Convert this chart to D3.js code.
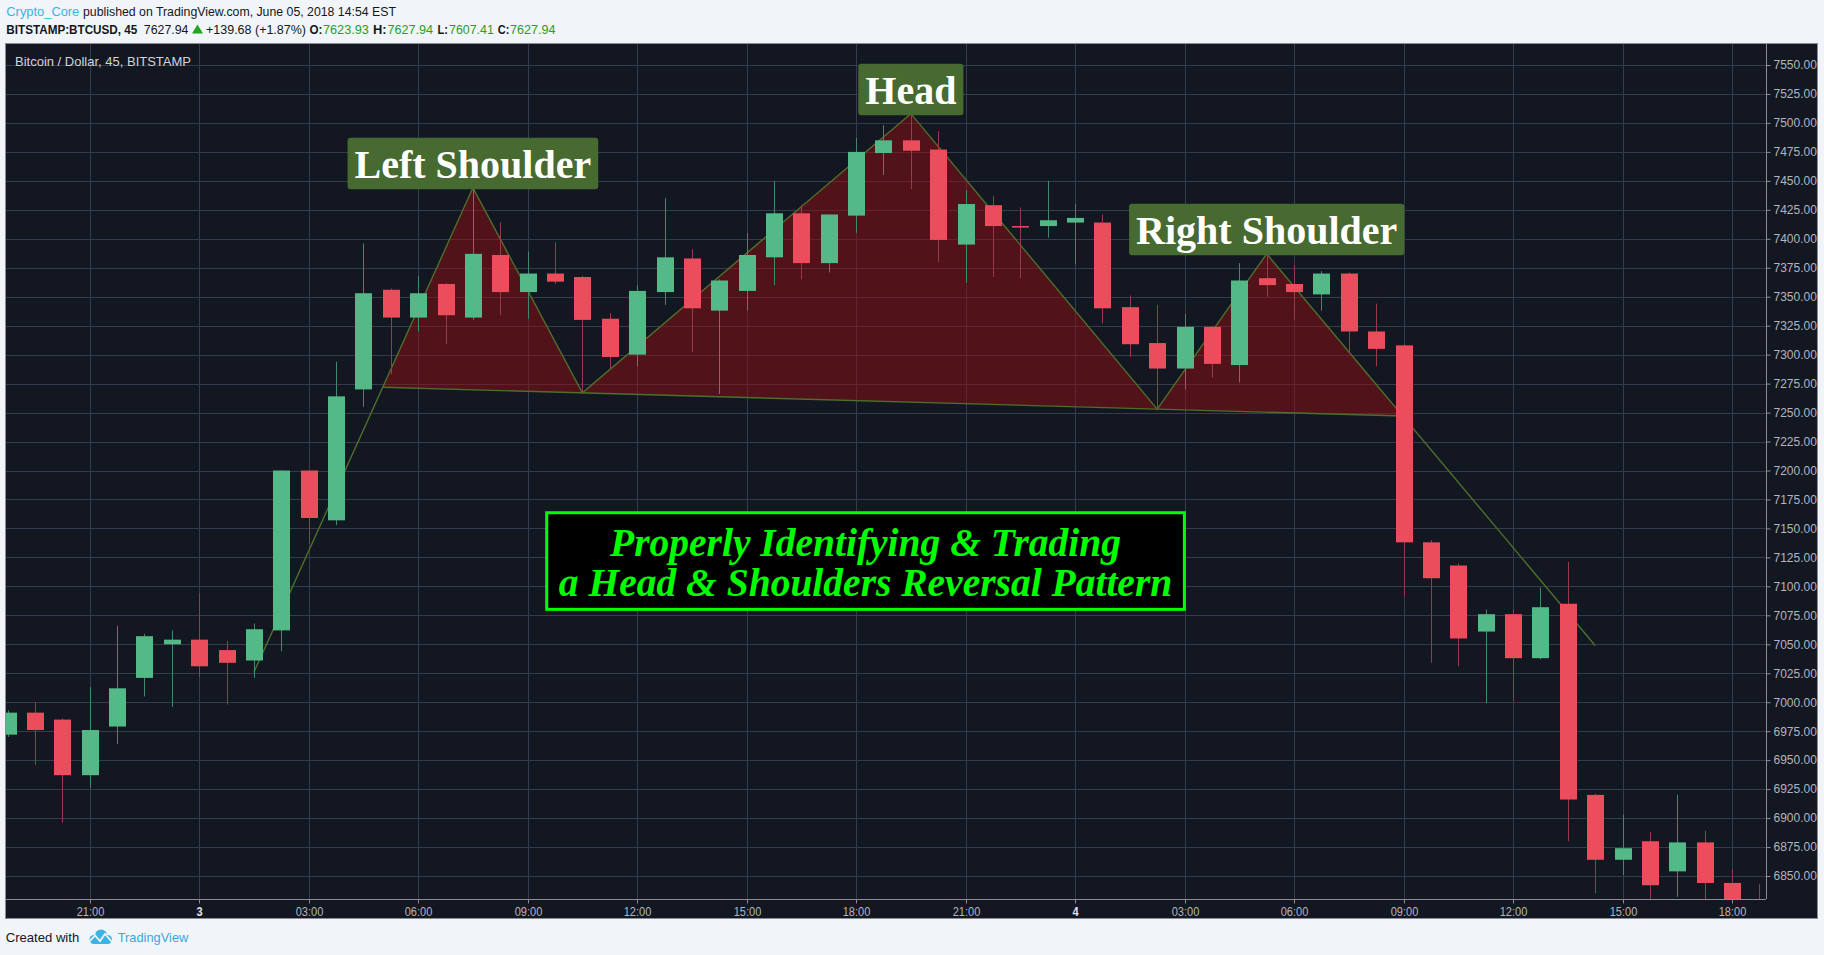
<!DOCTYPE html>
<html><head><meta charset="utf-8">
<script src="https://cdn.jsdelivr.net/npm/d3@7"></script>
<style>
html,body{margin:0;padding:0;background:#f1f4f8;}
svg{display:block;}
</style></head><body>
<svg id="c" width="1824" height="955"></svg>
<script>
// ---- data (45-minute BTC/USD candles, Jun 2 18:45 -> Jun 4 18:45) ----
const opens  = [6972,6991,6985,6937,6979,7021,7050,7054,7045,7036,7062,7200,7157,7270,7356,7332,7361,7332,7386,7354,7370,7367,7331,7300,7354,7383,7338,7355,7384,7422,7379,7420,7474,7485,7477,7395,7429,7411,7411,7414,7414,7341,7310,7288,7324,7291,7366,7361,7352,7370,7320,7308,7138,7118,7061,7076,7038,7085,6920,6864,6880,6854,6879,6844,6826];
const highs  = [6993,7000,6986,7013,7066,7059,7062,7094,7053,7068,7200,7200,7294,7396,7357,7368,7362,7444,7414,7389,7397,7368,7336,7360,7435,7391,7365,7405,7450,7429,7421,7487,7498,7507,7493,7442,7437,7427,7450,7430,7421,7351,7343,7335,7325,7379,7387,7377,7372,7371,7344,7309,7140,7120,7080,7080,7099,7121,6921,6903,6888,6920,6889,6856,6843];
const lows   = [6970,6946,6896,6926,6964,7005,6996,7022,6998,7021,7044,7137,7153,7255,7283,7320,7309,7330,7334,7331,7361,7267,7288,7290,7343,7302,7266,7338,7360,7365,7371,7405,7455,7443,7380,7362,7367,7366,7401,7378,7327,7298,7252,7270,7280,7276,7350,7330,7338,7301,7290,7092,7034,7031,6999,7001,7037,6880,6835,6851,6830,6832,6830,6822,6800];
const closes = [6991,6976,6937,6976,7012,7057,7054,7031,7034,7063,7200,7159,7264,7353,7332,7353,7334,7387,7354,7370,7363,7330,7298,7355,7384,7340,7364,7386,7422,7379,7421,7475,7485,7476,7399,7430,7411,7410,7416,7418,7340,7309,7288,7324,7292,7364,7360,7354,7370,7320,7305,7138,7107,7055,7076,7038,7082,6916,6864,6874,6842,6879,6844,6826,6815];

const xTickBars   = [3,7,11,15,19,23,27,31,35,39,43,47,51,55,59,63];
const xTickLabels = ["21:00","3","03:00","06:00","09:00","12:00","15:00","18:00","21:00","4","03:00","06:00","09:00","12:00","15:00","18:00"];
const dayLabels   = ["3","4"];
const yTicks      = d3.range(6850, 7551, 25);

// head & shoulders drawing points: start, L.shoulder, neck1, head, neck2, R.shoulder, end
const patternBars   = [9,17,21,33,42,46,58];
const patternPrices = [7026,7444,7267,7508,7253,7387,7049];
const labelTexts    = ["Left Shoulder","Head","Right Shoulder"];
const labelPointIdx = [1,3,5];

const noteLines  = ["Properly Identifying & Trading","a Head & Shoulders Reversal Pattern"];
const noteBars   = [19.66, 43.03];
const notePrices = [7164.4, 7079.3];

// ---- layout ----
const svg = d3.select("#c");
const L = 6, R = 1766, T = 44, B = 899, AX_R = 1817, AX_B = 918;
const x = d3.scaleLinear().domain([3,63]).range([89.7,1732]);
const y = d3.scaleLinear().domain([6850,7550]).range([876,65]);

const UP = "#53b987", DN = "#eb4d5c";
const UPW = "#3f8a6c", DNW = "#9a3a49";

// chart background
svg.append("rect").attr("x",5).attr("y",43).attr("width",AX_R-5).attr("height",AX_B-43)
  .attr("fill","#131722").attr("stroke","#8a8d96").attr("stroke-width",1).attr("shape-rendering","crispEdges");

svg.append("defs").append("clipPath").attr("id","plot")
  .append("rect").attr("x",L).attr("y",T).attr("width",R-L).attr("height",B-T);

const plot = svg.append("g").attr("clip-path","url(#plot)");

// grid
plot.append("g").selectAll("line").data(yTicks).join("line")
  .attr("x1",L).attr("x2",R).attr("y1",d=>Math.round(y(d))+0.5).attr("y2",d=>Math.round(y(d))+0.5)
  .attr("stroke","#363c4e").attr("stroke-width",1);
plot.append("g").selectAll("line").data(xTickBars).join("line")
  .attr("y1",T).attr("y2",B).attr("x1",d=>Math.round(x(d))+0.5).attr("x2",d=>Math.round(x(d))+0.5)
  .attr("stroke","#363c4e").attr("stroke-width",1);

// pattern geometry
const P = patternBars.map((b,i)=>[x(b), y(patternPrices[i])]);
function intersect(a,b,c,d){
  const x1=a[0],y1=a[1],x2=b[0],y2=b[1],x3=c[0],y3=c[1],x4=d[0],y4=d[1];
  const den=(x1-x2)*(y3-y4)-(y1-y2)*(x3-x4);
  const t=((x1-x3)*(y3-y4)-(y1-y3)*(x3-x4))/den;
  return [x1+t*(x2-x1), y1+t*(y2-y1)];
}
const nL = intersect(P[0],P[1],P[2],P[4]);
const nR = intersect(P[5],P[6],P[2],P[4]);
const tris = [[nL,P[1],P[2]],[P[2],P[3],P[4]],[P[4],P[5],nR]];
const pg = plot.append("g");
pg.selectAll("path.tri").data(tris).join("path").attr("class","tri")
  .attr("d",d=>d3.line()(d)+"Z").attr("fill","rgba(145,13,18,0.5)");
pg.append("path").attr("d",d3.line()(P)).attr("fill","none").attr("stroke","#4e6f2b").attr("stroke-width",1.4);
pg.append("path").attr("d",d3.line()([nL,nR])).attr("fill","none").attr("stroke","#4e6f2b").attr("stroke-width",1.4);

// candles
const idx = d3.range(opens.length);
const bw = 17;
const cg = plot.append("g");
cg.selectAll("line").data(idx).join("line")
  .attr("x1",i=>Math.round(x(i))+0.5).attr("x2",i=>Math.round(x(i))+0.5)
  .attr("y1",i=>y(highs[i])).attr("y2",i=>y(lows[i]))
  .attr("stroke",i=>closes[i]>=opens[i]?UPW:DNW).attr("stroke-width",1);
cg.selectAll("rect").data(idx).join("rect")
  .attr("x",i=>Math.round(x(i))-8).attr("width",bw)
  .attr("y",i=>y(Math.max(opens[i],closes[i])))
  .attr("height",i=>Math.max(1.5, y(Math.min(opens[i],closes[i]))-y(Math.max(opens[i],closes[i]))))
  .attr("fill",i=>closes[i]>=opens[i]?UP:DN);

// labels above shoulders & head
const lg = svg.append("g");
labelTexts.forEach((t,k)=>{
  const p = P[labelPointIdx[k]];
  const bottom = p[1]+1.5;
  const g = lg.append("g");
  const rect = g.append("rect").attr("fill","#476a30").attr("rx",3);
  const tx = g.append("text").text(t).attr("x",p[0]).attr("y",bottom-11.5)
    .attr("text-anchor","middle").attr("fill","#ffffff")
    .attr("font-family","'Liberation Serif','Times New Roman',serif").attr("font-weight","bold").attr("font-size",40);
  const w = tx.node().getComputedTextLength()+14;
  rect.attr("x",p[0]-w/2).attr("y",bottom-51.5).attr("width",w).attr("height",51.5);
});

// note box
const nx0 = x(noteBars[0]), nx1 = x(noteBars[1]), ny0 = y(notePrices[0]), ny1 = y(notePrices[1]);
svg.append("rect").attr("x",nx0+1).attr("y",ny0+1).attr("width",nx1-nx0-2).attr("height",ny1-ny0-2)
  .attr("fill","#000").attr("stroke","#00ff00").attr("stroke-width",3);
svg.append("g").selectAll("text").data(noteLines).join("text")
  .attr("x",(nx0+nx1)/2).attr("y",(d,i)=>ny0+44+i*40).attr("text-anchor","middle")
  .attr("fill","#00ff00").attr("font-family","'Liberation Serif','Times New Roman',serif")
  .attr("font-weight","bold").attr("font-style","italic").attr("font-size",39.5).text(d=>d);

// legend in chart
svg.append("text").attr("x",15).attr("y",65.5).attr("fill","#d1d4dc")
  .attr("font-family","'Liberation Sans',Arial,sans-serif").attr("font-size",13)
  .attr("textLength",176).attr("lengthAdjust","spacingAndGlyphs").text("Bitcoin / Dollar, 45, BITSTAMP");

// axes
const yAxis = d3.axisRight(y).tickValues(yTicks).tickFormat(d3.format(".2f")).tickSize(4).tickPadding(3);
const ya = svg.append("g").attr("transform",`translate(${R+0.5},0)`).call(yAxis);
ya.select(".domain").attr("d",`M0,${T}V${B}`).attr("stroke","#8a8d96");
ya.selectAll(".tick line").attr("stroke","#8a8d96");
ya.selectAll(".tick text").attr("fill","#b2b5be").attr("font-size",12)
  .attr("font-family","'Liberation Sans',Arial,sans-serif");

const xAxis = d3.axisBottom(x).tickValues(xTickBars).tickFormat((d,i)=>xTickLabels[i]).tickSize(4).tickPadding(3);
const xa = svg.append("g").attr("transform",`translate(0,${B+0.5})`).call(xAxis);
xa.select(".domain").attr("d",`M${L},0H${R}`).attr("stroke","#8a8d96");
xa.selectAll(".tick line").attr("stroke","#8a8d96");
xa.selectAll(".tick").attr("transform",d=>`translate(${Math.round(x(d))+0.5},0)`);
xa.selectAll(".tick text").attr("fill",(d,i)=>dayLabels.includes(xTickLabels[i])?"#e0e3eb":"#b2b5be")
  .attr("font-weight",(d,i)=>dayLabels.includes(xTickLabels[i])?"bold":"normal")
  .attr("font-size",12).attr("font-family","'Liberation Sans',Arial,sans-serif")
  .attr("y",8).attr("dy","0.71em").attr("transform","scale(0.92,1)");

// header
const hf = "'Liberation Sans',Arial,sans-serif";
function seg(xp,yp,txt,len,fill,bold,fs){
  svg.append("text").attr("x",xp).attr("y",yp).attr("fill",fill).attr("font-family",hf)
    .attr("font-size",fs||12.5).attr("font-weight",bold?"bold":"normal")
    .attr("textLength",len).attr("lengthAdjust","spacingAndGlyphs").text(txt);
}
seg(6.3,16,"Crypto_Core",73,"#3bb3e4",false);
seg(83,16,"published on TradingView.com, June 05, 2018 14:54 EST",313,"#131722",false);
const G = "#2a9d2a";
seg(6.3,33.5,"BITSTAMP:BTCUSD, 45",131,"#131722",true);
seg(143.8,33.5,"7627.94",44.6,"#131722",false);
svg.append("path").attr("d","M192,33.5L197.5,24.5L203,33.5Z").attr("fill","#1fa51f");
seg(206,33.5,"+139.68 (+1.87%)",100,"#131722",false);
seg(309.4,33.5,"O:",12.9,"#131722",true);
seg(323,33.5,"7623.93",45.8,G,false);
seg(373,33.5,"H:",13.6,"#131722",true);
seg(387.5,33.5,"7627.94",45.5,G,false);
seg(437.5,33.5,"L:",10.5,"#131722",true);
seg(449,33.5,"7607.41",44.8,G,false);
seg(497.8,33.5,"C:",11.6,"#131722",true);
seg(510,33.5,"7627.94",45.4,G,false);

// footer
seg(5.7,942,"Created with",73.5,"#131722",false,13);
const logo = svg.append("g");
logo.append("circle").attr("cx",94).attr("cy",939.5).attr("r",4.5).attr("fill","#3bb3e4");
logo.append("circle").attr("cx",101).attr("cy",935.5).attr("r",6).attr("fill","#3bb3e4");
logo.append("circle").attr("cx",107.5).attr("cy",939.5).attr("r",4.5).attr("fill","#3bb3e4");
logo.append("rect").attr("x",94).attr("y",937).attr("width",13.5).attr("height",7).attr("fill","#3bb3e4");
logo.append("path").attr("d","M88,943L95,935.5L100,941L105,934L112,942").attr("fill","none").attr("stroke","#f1f4f8").attr("stroke-width",1.8);
seg(117.7,942,"TradingView",70.6,"#3ba7e0",false,13);
</script>
</body></html>
